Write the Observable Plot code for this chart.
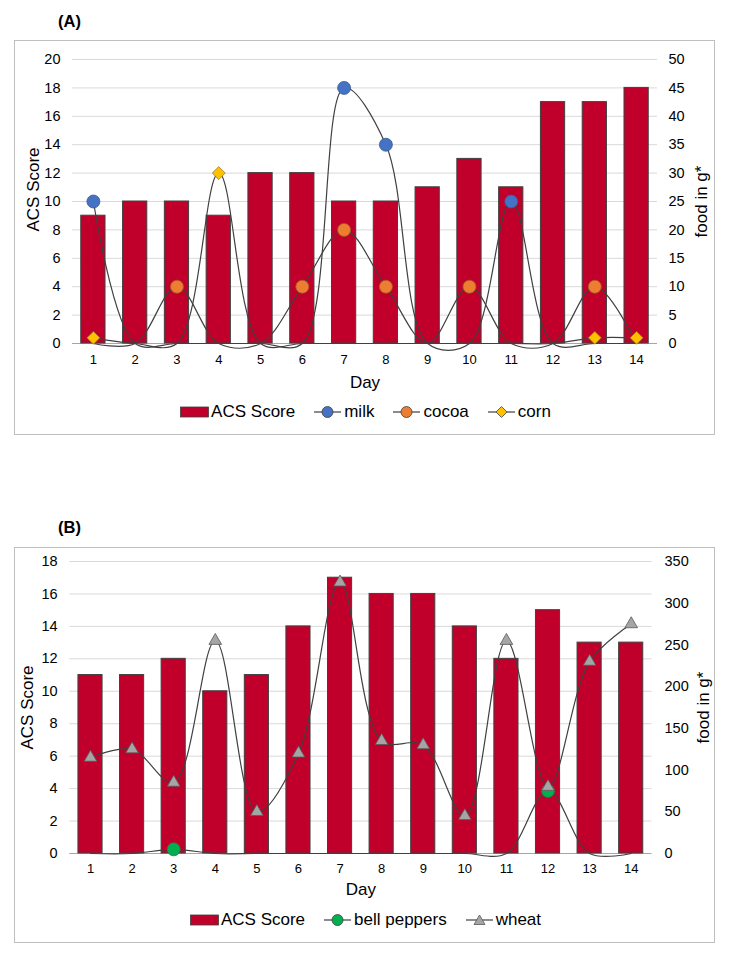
<!DOCTYPE html>
<html><head><meta charset="utf-8">
<script src="https://cdn.jsdelivr.net/npm/d3@7"></script>
<script src="https://cdn.jsdelivr.net/npm/@observablehq/plot@0.6"></script>
<style>
html,body{margin:0;padding:0;background:#fff;}
#page{position:relative;width:731px;height:959px;font-family:"Liberation Sans",Arial,sans-serif;color:#000;}
.box{position:absolute;left:14px;width:701px;border:1.5px solid #bfbfbf;box-sizing:border-box;}
.ttl{position:absolute;left:58px;font-weight:bold;font-size:16.5px;line-height:20px;}
.chart{position:absolute;left:0;}
.chart svg{overflow:visible;}
.legend{position:absolute;left:0;width:731px;height:20px;display:flex;justify-content:center;align-items:center;font-size:17px;line-height:20px;}
.item{display:flex;align-items:center;margin:0 9px;}
.item svg{margin-right:2px;display:block;}
</style></head>
<body><div id="page">
<div class="ttl" style="top:11px">(A)</div>
<div class="box" style="top:40px;height:395px"></div>
<div class="chart" id="chartA" style="top:40px"></div>
<div class="legend" id="legA" style="top:402px"></div>
<div class="ttl" style="top:517px">(B)</div>
<div class="box" style="top:547px;height:396px"></div>
<div class="chart" id="chartB" style="top:547px"></div>
<div class="legend" id="legB" style="top:910px"></div>
</div>
<script>
// ---- data ----
const days = [1,2,3,4,5,6,7,8,9,10,11,12,13,14];
// Panel A
const acsScoreA = [9,10,10,9,12,12,10,10,11,13,11,17,17,18];
const milkG     = [25,0,0,0,0,0,45,35,0,0,25,0,0,0];
const cocoaG    = [0,0,10,0,0,10,20,10,0,10,0,0,10,0];
const cornG     = [1,0,0,30,0,0,0,0,0,0,0,0,1,1];
const leftTicksA  = [0,2,4,6,8,10,12,14,16,18,20];
const rightTicksA = [0,5,10,15,20,25,30,35,40,45,50];
// Panel B
const acsScoreB    = [11,11,12,10,11,14,17,16,16,14,12,15,13,13];
const bellPeppersG = [0,0,5,0,0,0,0,0,0,0,0,75,0,0];
const wheatG       = [115,125,85,255,50,120,325,135,130,45,255,80,230,275];
const leftTicksB  = [0,2,4,6,8,10,12,14,16,18];
const rightTicksB = [0,50,100,150,200,250,300,350];

const BAR = "#C0002A", LINE = "#404040";

function panel(cfg) {
  const leftMax = cfg.leftTicks[cfg.leftTicks.length-1];
  const rightMax = cfg.rightTicks[cfg.rightTicks.length-1];
  const k = leftMax / rightMax;
  const rows = days.map((day, i) => {
    const r = {day, acs: cfg.acs[i]};
    for (const s of cfg.series) r[s.key] = s.values[i];
    return r;
  });
  const marks = [
    Plot.gridY(cfg.leftTicks.filter(t => t > 0), {stroke:"#d9d9d9", strokeOpacity:1, strokeWidth:1}),
    Plot.ruleY([0], {stroke:"#a6a6a6", strokeWidth:1}),
    Plot.axisY(cfg.leftTicks, {anchor:"left", tickSize:0, tickPadding:cfg.padL, label:null, fontSize:14.5}),
    Plot.axisY(cfg.rightTicks.map(v => v*k), {anchor:"right", tickSize:0, tickPadding:cfg.padR, label:null, fontSize:14.5, tickFormat: d => String(Math.round(d/k))}),
    Plot.axisX(days, {anchor:"bottom", tickSize:0, tickPadding:cfg.padX, label:null, fontSize:13}),
    Plot.rect(rows, {x1: d => d.day - 0.29, x2: d => d.day + 0.29, y1: 0, y2: "acs", fill: BAR, stroke: LINE, strokeWidth: 1}),
    Plot.text(["ACS Score"], {text: d => d, frameAnchor:"left", rotate:-90, dx:cfg.lDx, dy:cfg.lDy, fontSize:17, textAnchor:"middle", lineAnchor:"middle"}),
    Plot.text(["food in g*"], {text: d => d, frameAnchor:"right", rotate:-90, dx:cfg.rDx, dy:cfg.rDy, fontSize:17, textAnchor:"middle", lineAnchor:"middle"}),
    Plot.text(["Day"], {text: d => d, frameAnchor:"bottom", dy:cfg.dayDy, fontSize:17, textAnchor:"middle", lineAnchor:"middle"})
  ];
  for (const s of cfg.series) {
    marks.push(Plot.line(rows, {x:"day", y: d => d[s.key]*k, curve:"catmull-rom", stroke: LINE, strokeWidth: 1.2}));
    marks.push(Plot.dot(rows.filter(d => d[s.key] > 0), {x:"day", y: d => d[s.key]*k, symbol: s.symbol, r: s.r, fill: s.color, stroke: s.stroke, strokeWidth: 0.8}));
  }
  return Plot.plot({
    width: 731, height: cfg.height,
    marginLeft: cfg.ml, marginRight: cfg.mr, marginTop: cfg.mt, marginBottom: cfg.mb,
    x: {domain: [0.5, 14.5], axis: null},
    y: {domain: [0, leftMax], axis: null},
    style: {fontFamily: '"Liberation Sans", Arial, sans-serif', color: "#000", background: "transparent"},
    marks
  });
}

function legend(el, items) {
  for (const it of items) {
    const d = document.createElement("div");
    d.className = "item";
    let sw;
    if (it.type === "bar") {
      sw = `<svg width="29" height="12"><rect x="0.5" y="1" width="28" height="10" fill="${BAR}" stroke="${LINE}" stroke-width="0.8"/></svg>`;
    } else {
      let m;
      if (it.symbol === "circle") m = `<circle cx="14.5" cy="7" r="5.5" fill="${it.color}" stroke="${LINE}" stroke-width="0.8"/>`;
      else if (it.symbol === "diamond") m = `<path d="M14.5,1.5L20,7L14.5,12.5L9,7Z" fill="${it.color}" stroke="${LINE}" stroke-width="0.8"/>`;
      else m = `<path d="M14.5,2L20,11.5L9,11.5Z" fill="${it.color}" stroke="#595959" stroke-width="0.8"/>`;
      sw = `<svg width="29" height="14"><line x1="1" y1="7" x2="28" y2="7" stroke="${LINE}" stroke-width="1.2"/>${m}</svg>`;
    }
    d.innerHTML = sw + `<span>${it.label}</span>`;
    el.appendChild(d);
  }
}

document.getElementById("chartA").appendChild(panel({
  acs: acsScoreA, leftTicks: leftTicksA, rightTicks: rightTicksA,
  series: [
    {key:"milk", values: milkG, color:"#4472C4", stroke:"#3a5a94", symbol:"circle", r:6.5},
    {key:"cocoa", values: cocoaG, color:"#ED7D31", stroke:"#a85a26", symbol:"circle", r:6.5},
    {key:"corn", values: cornG, color:"#FFC000", stroke:"#9a7a20", symbol:"diamond2", r:5.8}
  ],
  height: 360, ml: 72, mr: 74, mt: 19, mb: 57,
  padL: 12, padR: 11, padX: 11,
  lDx: -38.5, lDy: -12, rDx: 44, rDy: 0, dayDy: 39
}));

document.getElementById("chartB").appendChild(panel({
  acs: acsScoreB, leftTicks: leftTicksB, rightTicks: rightTicksB,
  series: [
    {key:"bell", values: bellPeppersG, color:"#00B050", stroke:"#2e7a46", symbol:"circle", r:6.5},
    {key:"wheat", values: wheatG, color:"#A5A5A5", stroke:"#595959", symbol:"triangle", r:4.7}
  ],
  height: 360, ml: 69.2, mr: 79.5, mt: 14, mb: 54,
  padL: 12, padR: 12.5, padX: 10,
  lDx: -41.7, lDy: 0, rDx: 51.5, rDy: 0, dayDy: 36.5
}));

legend(document.getElementById("legA"), [
  {type:"bar", label:"ACS Score"},
  {type:"line", symbol:"circle", color:"#4472C4", label:"milk"},
  {type:"line", symbol:"circle", color:"#ED7D31", label:"cocoa"},
  {type:"line", symbol:"diamond", color:"#FFC000", label:"corn"}
]);
legend(document.getElementById("legB"), [
  {type:"bar", label:"ACS Score"},
  {type:"line", symbol:"circle", color:"#00B050", label:"bell peppers"},
  {type:"line", symbol:"triangle", color:"#A5A5A5", label:"wheat"}
]);
</script>
</body></html>
